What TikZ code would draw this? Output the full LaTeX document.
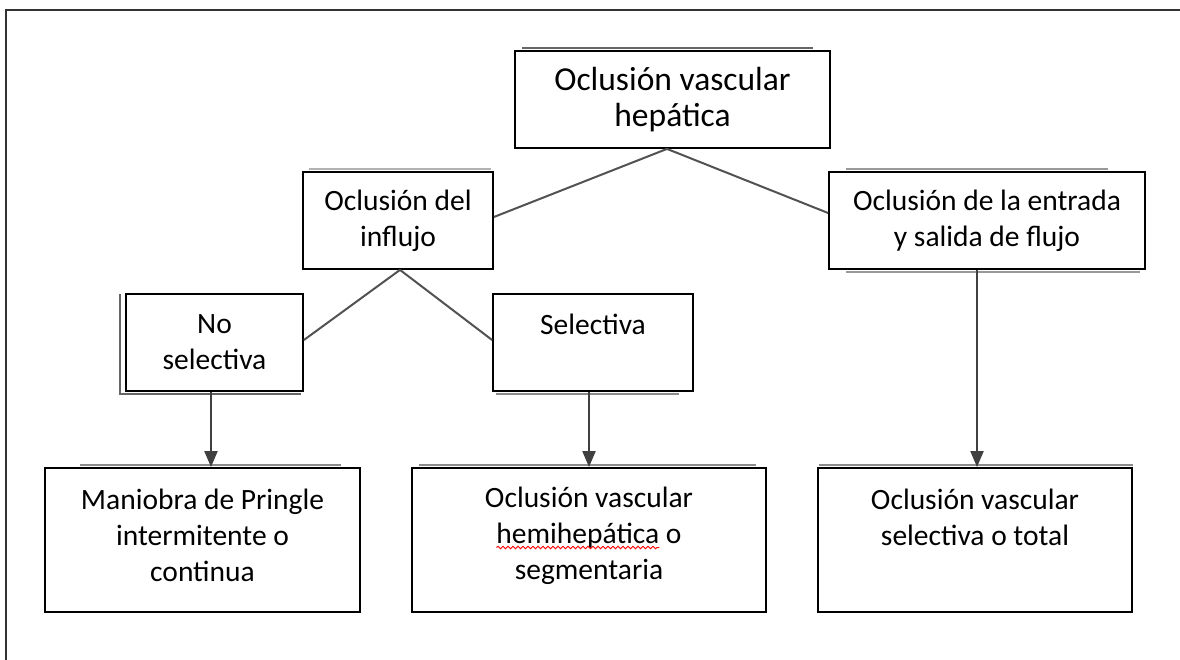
\documentclass[tikz,border=0pt]{standalone}
\usepackage{fontspec}
\setmainfont{Carlito}
\usetikzlibrary{arrows.meta,calc,decorations.pathmorphing}
\newlength\hemiword
\newlength\hemiline
\newlength\hemistart
\begin{document}
% widths used to place the spell-check squiggle under "hemihepática"
\settowidth\hemiword{\fontsize{29.5}{36}\selectfont hemihepática}
\settowidth\hemiline{\fontsize{29.5}{36}\selectfont hemihepática o}
\setlength\hemistart{-0.5\hemiline}
\begin{tikzpicture}[x=1pt,y=-1pt,
  box/.style={draw=black, line width=1.8pt, align=center, inner sep=0pt,
              font=\fontsize{29.5}{36}\selectfont},
  smallbox/.style={box, minimum height=97},
  bigbox/.style={box, minimum height=144},
  txt/.style={align=center, inner sep=0pt, font=\fontsize{29.5}{36}\selectfont},
  link/.style={draw=black!68, line width=2pt},
  arr/.style={draw=black!75, line width=2pt, -{Triangle[length=16pt,width=13pt]}},
  ghost/.style={draw=black!60, line width=1.6pt},
]
\useasboundingbox (0,0) rectangle (1180,660);

% outer frame (only its top and left sides fall inside the page)
\draw[black!80, line width=1.6pt] (6,700) -- (6,10) -- (1200,10);

% upper boxes
\node[smallbox, minimum width=315, font=\fontsize{33.5}{36}\selectfont] (top) at (672.5,99.5) {Oclusión vascular\\hepática};
\node[smallbox, minimum width=190] (influjo) at (398,220.5) {Oclusión del\\influjo};
\node[smallbox, minimum width=316] (entrada) at (987,220.5) {Oclusión de la entrada\\y salida de flujo};
\node[smallbox, minimum width=177] (nosel) at (214.5,342.5) {No\\selectiva};
\node[smallbox, minimum width=200] (sel) at (593,342.5) {Selectiva\\\mbox{}};

% lower boxes, with their text set a little above centre
\node[bigbox, minimum width=315] (pringle) at (202.5,540) {};
\node[bigbox, minimum width=354] (hemi) at (589,540) {};
\node[bigbox, minimum width=314] (total) at (975,540) {};
\node[txt] (pringle-txt) at ([yshift=4.5pt]pringle.center) {Maniobra de Pringle\\intermitente o\\continua};
\node[txt] (hemi-txt) at ([yshift=4.5pt]hemi.center) {Oclusión vascular\\hemihepática o\\segmentaria};
\node[txt] (total-txt) at ([yshift=4.5pt]total.center) {Oclusión vascular\\selectiva o total\\\mbox{}};

% faint offset edges behind some boxes
\draw[ghost] ([xshift=8pt,yshift=2pt]top.north west) -- ([xshift=-18pt,yshift=2pt]top.north east);
\draw[ghost, draw=black!30] ([xshift=7pt,yshift=2pt]influjo.north west) -- ([xshift=-3pt,yshift=2pt]influjo.north east);
\draw[ghost, draw=black!40] ([xshift=18pt,yshift=2pt]entrada.north west) -- ([xshift=-38pt,yshift=2pt]entrada.north east);
\draw[ghost, draw=black!40] ([xshift=18pt,yshift=-2pt]entrada.south west) -- ([xshift=-6pt,yshift=-2pt]entrada.south east);
\draw[ghost] ([xshift=-5pt,yshift=-1pt]nosel.north west) -- ([xshift=-5pt,yshift=-2pt]nosel.south west) -- ([xshift=-3pt,yshift=-2pt]nosel.south east);
\draw[ghost, draw=black!45] ([xshift=4pt,yshift=-2pt]sel.south west) -- ([xshift=-15pt,yshift=-2pt]sel.south east);
\draw[ghost, draw=black!45] ([xshift=36pt,yshift=2pt]pringle.north west) -- ([xshift=-20pt,yshift=2pt]pringle.north east);
\draw[ghost, draw=black!45] ([xshift=8pt,yshift=2pt]hemi.north west) -- ([xshift=-11pt,yshift=2pt]hemi.north east);
\draw[ghost, draw=black!45] ([xshift=2pt,yshift=2pt]total.north west) -- ([xshift=0pt,yshift=2pt]total.north east);

% branches
\draw[link] ([xshift=-5.5pt]top.south) -- ([yshift=3.5pt]influjo.east);
\draw[link] ([xshift=-5.5pt]top.south) -- ([yshift=7.5pt]entrada.west);
\draw[link] ([xshift=2pt]influjo.south) -- ([yshift=2.5pt]nosel.east);
\draw[link] ([xshift=2pt]influjo.south) -- ([yshift=2.5pt]sel.west);

% arrows
\draw[arr] ([xshift=-3.5pt]nosel.south) -- ([xshift=-3.5pt]nosel.south |- pringle.north);
\draw[arr] ([xshift=-4pt]sel.south) -- ([xshift=-4pt]sel.south |- hemi.north);
\draw[arr] ([xshift=-10pt]entrada.south) -- ([xshift=-10pt]entrada.south |- total.north);

% spell-check squiggle under the second line of the middle box
\draw[red, line width=0.9pt, decorate, decoration={snake, amplitude=1.2pt, segment length=5pt}]
  ($(hemi.center)+(\hemistart,-7.5pt)$) -- ++(\hemiword,0pt);
\end{tikzpicture}
\end{document}
